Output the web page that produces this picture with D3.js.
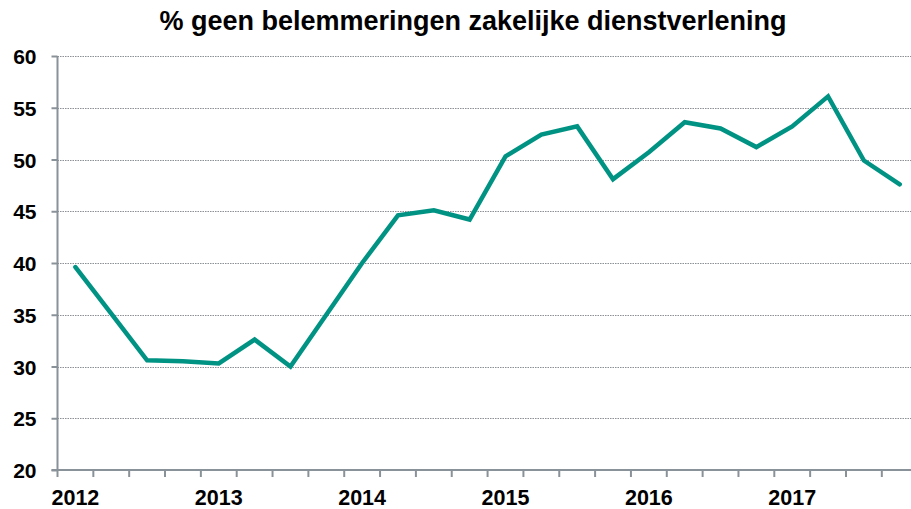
<!DOCTYPE html>
<html><head><meta charset="utf-8">
<script src="https://cdn.jsdelivr.net/npm/d3@7"></script>
<style>body{margin:0;background:#fff}svg{display:block}text{font-family:"Liberation Sans",Arial,sans-serif;font-weight:bold;fill:#000}</style>
</head><body><svg id="c" width="911" height="509"></svg>
<script>
const title = "% geen belemmeringen zakelijke dienstverlening";
const years = ["2012","2013","2014","2015","2016","2017"];
const quarters = ["Q1","Q2","Q3","Q4"];
const categories = years.flatMap(y => quarters.map(q => y + " " + q));
const values = [39.6,35.1,30.6,30.5,30.3,32.6,30.0,35.0,40.0,44.6,45.1,44.2,50.3,52.4,53.2,48.1,50.7,53.6,53.0,51.2,53.2,56.1,49.9,47.6];
const yTicks = [20,25,30,35,40,45,50,55,60];

const svg = d3.select("#c");
const mLeft = 57.5, mTop = 56, mBottom = 470;
const bandW = 35.84;
const x = d3.scaleBand().domain(categories).range([mLeft, mLeft + bandW * categories.length]).paddingInner(0).paddingOuter(0);
const y = d3.scaleLinear().domain([20,60]).range([mBottom, mTop]);
const axisColor = "#8a9299";

// gridlines
svg.append("g").selectAll("line").data(yTicks.filter(t => t > 20)).join("line")
  .attr("x1", mLeft).attr("x2", 911).attr("y1", d => Math.round(y(d)) + 0.5).attr("y2", d => Math.round(y(d)) + 0.5)
  .attr("stroke", "#8c8f94").attr("stroke-width", 1).attr("stroke-dasharray", "1.5,1");

// y axis
const yAxis = svg.append("g").attr("transform", `translate(${mLeft},0)`)
  .call(d3.axisLeft(y).tickValues(yTicks).tickSize(6).tickPadding(15));
yAxis.select(".domain").attr("stroke", axisColor).attr("stroke-width", 2).attr("d", `M0,${mTop}V${mBottom}`);
yAxis.selectAll(".tick line").attr("stroke", axisColor).attr("stroke-width", 2);
yAxis.selectAll(".tick text").style("font-size", "21px").attr("fill", "#000").attr("dy", "0.36em");

// x axis
const xg = svg.append("g").attr("transform", `translate(0,${mBottom})`);
xg.append("line").attr("x1", mLeft - 6).attr("x2", 911).attr("y1", 0).attr("y2", 0).attr("stroke", axisColor).attr("stroke-width", 2);
xg.selectAll("line.tk").data(categories).join("line").attr("class","tk")
  .attr("x1", d => x(d)).attr("x2", d => x(d)).attr("y1", 0).attr("y2", 7)
  .attr("stroke", axisColor).attr("stroke-width", 2);
xg.selectAll("text").data(categories.filter(c => c.endsWith("Q1"))).join("text")
  .attr("x", d => x(d) + x.bandwidth()/2).attr("y", 35).attr("text-anchor", "middle")
  .style("font-size", "21.5px").text(d => d.slice(0,4));

// line
const line = d3.line().x((d,i) => x(categories[i]) + x.bandwidth()/2).y(d => y(d));
svg.append("path").datum(values).attr("d", line).attr("fill", "none")
  .attr("stroke", "#009384").attr("stroke-width", 4.5).attr("stroke-linejoin", "miter").attr("stroke-linecap", "round");

// title
svg.append("text").attr("x", 473).attr("y", 30).attr("text-anchor", "middle").style("font-size", "27px").text(title);
</script></body></html>
